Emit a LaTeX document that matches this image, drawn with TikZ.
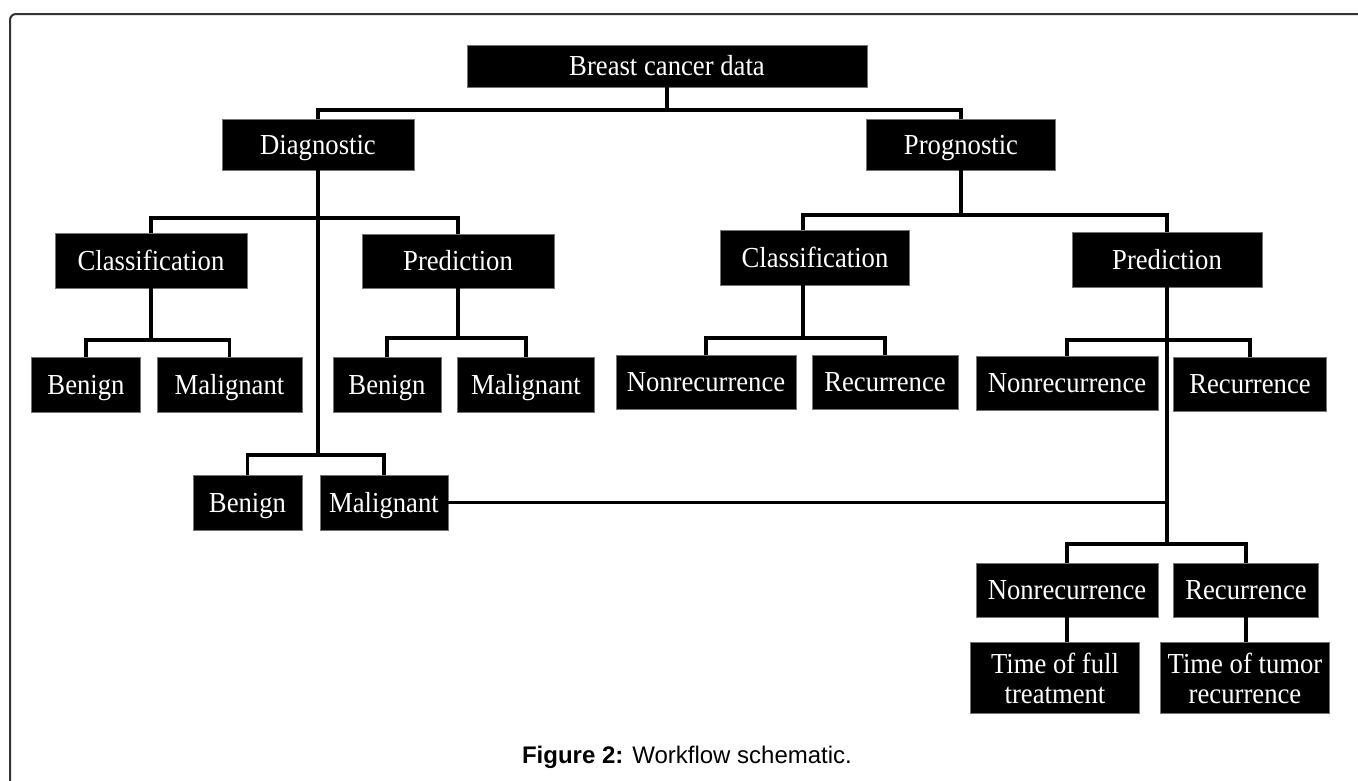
\documentclass[tikz,border=0pt]{standalone}
\usepackage{fontspec}
\setmainfont{Liberation Serif}[FakeStretch=0.92]
\newfontfamily\capfont{Liberation Sans}
\usepackage{tikz}

\tikzset{
	box/.style={fill=black, draw=black!55, line width=0.8pt, text=white, inner sep=0pt, align=center, text height=19pt, text depth=0pt, font=\fontsize{29}{30}\selectfont},
	twoline/.style={text height=, text depth=},
	link/.style={line width=3.5pt}
}

\begin{document}
\begin{tikzpicture}[x=1pt, y=-1pt]
		\useasboundingbox (0,0) rectangle (1358,780);

		\draw[black!80, line width=2pt, rounded corners=6pt] (10,800) -- (10,14) -- (1370,14);

		\node[box, minimum width=400pt, minimum height=42pt] (root) at (667,66) {Breast cancer data};

		\node[box, minimum width=192pt, minimum height=51pt] (diag) at (318,144.5) {Diagnostic};
		\node[box, minimum width=189pt, minimum height=51pt] (prog) at (961,144.5) {Prognostic};

		\node[box, minimum width=192pt, minimum height=55pt] (classL) at (151,260.5) {Classification};
		\node[box, minimum width=192pt, minimum height=54pt] (predL) at (458,261) {Prediction};
		\node[box, minimum width=189pt, minimum height=55pt] (classR) at (815,257.5) {Classification};
		\node[box, minimum width=190pt, minimum height=55pt] (predR) at (1167,259.5) {Prediction};

		\node[box, minimum width=109pt, minimum height=55pt] (benL) at (86,384.5) {Benign};
		\node[box, minimum width=145pt, minimum height=55pt] (malL) at (229.5,384.5) {Malignant};
		\node[box, minimum width=108pt, minimum height=55pt] (benL2) at (387,384.5) {Benign};
		\node[box, minimum width=137pt, minimum height=55pt] (malL2) at (526,384.5) {Malignant};
		\node[box, minimum width=180pt, minimum height=54pt] (nrA) at (706,382) {Nonrecurrence};
		\node[box, minimum width=146pt, minimum height=54pt] (rcA) at (885,382) {Recurrence};
		\node[box, minimum width=182pt, minimum height=54pt] (nrB) at (1067,383) {Nonrecurrence};
		\node[box, minimum width=153pt, minimum height=54pt] (rcB) at (1250,384) {Recurrence};

		\node[box, minimum width=109pt, minimum height=55pt] (ben3) at (247.5,502.5) {Benign};
		\node[box, minimum width=128pt, minimum height=55pt] (mal3) at (384,502.5) {Malignant};

		\node[box, minimum width=182pt, minimum height=54pt] (nrC) at (1067,590) {Nonrecurrence};
		\node[box, minimum width=145pt, minimum height=54pt] (rcC) at (1246,590) {Recurrence};

		\node[box, twoline, minimum width=169pt, minimum height=71pt] (tfull) at (1055,678) {Time of full\\treatment};
		\node[box, twoline, minimum width=169pt, minimum height=71pt] (ttum) at (1245,678) {Time of tumor\\recurrence};

		\coordinate (cRbar) at (803,338);

		\draw[link] (root) -- (root |- 0,110);
		\draw[link] (diag) |- (prog |- 0,110) -- (prog);

		\draw[link] (diag) -- (diag |- 0,455);
		\draw[link] (classL) |- (predL |- 0,218) -- (predL);
		\draw[link] (classL) -- (classL |- 0,340);
		\draw[link] (benL) |- (malL |- 0,340) -- (malL);
		\draw[link] (predL) -- (predL |- 0,338);
		\draw[link] (benL2) |- (malL2 |- 0,338) -- (malL2);
		\draw[link] (ben3) |- (mal3 |- 0,455) -- (mal3);

		\draw[link] (prog) -- (prog |- 0,215);
		\draw[link] (cRbar |- classR.north) |- (predR |- 0,215) -- (predR);
		\draw[link] (cRbar |- classR.south) -- (cRbar);
		\draw[link] (nrA) |- (rcA |- cRbar) -- (rcA);
		\draw[link] (predR) -- (predR |- 0,544);
		\draw[link] (nrB) |- (rcB |- 0,340) -- (rcB);
		\draw[link] (nrC) |- (rcC |- 0,544) -- (rcC);
		\draw[link] (mal3) -- (mal3 -| predR);

		\draw[link] (nrC) -- (nrC |- tfull.north);
		\draw[link] (rcC) -- (rcC |- ttum.north);

		\node[font=\capfont\fontsize{24}{28}\selectfont] (caption) at (687,757) {\textbf{Figure 2:} Workflow schematic.};
	\end{tikzpicture}
\end{document}
